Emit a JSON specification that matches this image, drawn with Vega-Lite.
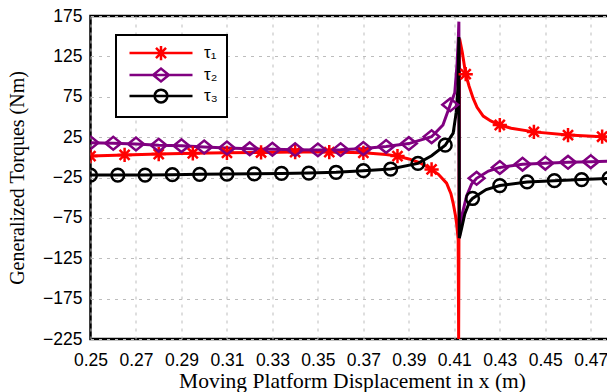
{
  "$schema": "https://vega.github.io/schema/vega-lite/v6.json",
  "width": 523,
  "height": 323,
  "autosize": {"type": "none"},
  "padding": {"left": 90.5, "top": 16, "right": 0, "bottom": 53},
  "background": "white",
  "config": {
    "view": {"stroke": "black", "strokeWidth": 2.5},
    "axis": {
      "grid": true,
      "gridDash": [3, 5],
      "gridColor": "#bdbdbd",
      "gridWidth": 1,
      "domain": false,
      "ticks": false,
      "tickSize": 0,
      "labelFont": "Liberation Sans",
      "labelFontSize": 17.5,
      "labelColor": "black",
      "titleFont": "Liberation Serif",
      "titleFontWeight": "normal",
      "titleColor": "black",
      "labelFlush": false,
      "labelOverlap": false
    },
    "legend": {"strokeWidth": 2}
  },
  "datasets": {
    "curves": [
      {"x": 0.25, "torque": 1.5, "series": "τ₁"},
      {"x": 0.265, "torque": 3, "series": "τ₁"},
      {"x": 0.28, "torque": 4, "series": "τ₁"},
      {"x": 0.295, "torque": 5, "series": "τ₁"},
      {"x": 0.31, "torque": 5.5, "series": "τ₁"},
      {"x": 0.325, "torque": 6, "series": "τ₁"},
      {"x": 0.34, "torque": 6.5, "series": "τ₁"},
      {"x": 0.355, "torque": 6.5, "series": "τ₁"},
      {"x": 0.37, "torque": 5.5, "series": "τ₁"},
      {"x": 0.38, "torque": 3.5, "series": "τ₁"},
      {"x": 0.385, "torque": 1.5, "series": "τ₁"},
      {"x": 0.39, "torque": -2, "series": "τ₁"},
      {"x": 0.395, "torque": -7, "series": "τ₁"},
      {"x": 0.40, "torque": -15, "series": "τ₁"},
      {"x": 0.403, "torque": -21, "series": "τ₁"},
      {"x": 0.4066, "torque": -32, "series": "τ₁"},
      {"x": 0.4085, "torque": -45, "series": "τ₁"},
      {"x": 0.4095, "torque": -57, "series": "τ₁"},
      {"x": 0.4105, "torque": -72, "series": "τ₁"},
      {"x": 0.411, "torque": -82, "series": "τ₁"},
      {"x": 0.4117, "torque": -102, "series": "τ₁"},
      {"x": 0.4119, "torque": -225, "series": "τ₁"},
      {"x": 0.4123, "torque": 147, "series": "τ₁"},
      {"x": 0.4135, "torque": 130, "series": "τ₁"},
      {"x": 0.415, "torque": 103, "series": "τ₁"},
      {"x": 0.4165, "torque": 88, "series": "τ₁"},
      {"x": 0.4183, "torque": 73, "series": "τ₁"},
      {"x": 0.42, "torque": 62, "series": "τ₁"},
      {"x": 0.4227, "torque": 51, "series": "τ₁"},
      {"x": 0.426, "torque": 45, "series": "τ₁"},
      {"x": 0.43, "torque": 40, "series": "τ₁"},
      {"x": 0.435, "torque": 36, "series": "τ₁"},
      {"x": 0.445, "torque": 31.5, "series": "τ₁"},
      {"x": 0.46, "torque": 27.5, "series": "τ₁"},
      {"x": 0.475, "torque": 25.5, "series": "τ₁"},
      {"x": 0.48, "torque": 25, "series": "τ₁"},

      {"x": 0.25, "torque": 18, "series": "τ₂"},
      {"x": 0.26, "torque": 17.4, "series": "τ₂"},
      {"x": 0.27, "torque": 16.5, "series": "τ₂"},
      {"x": 0.28, "torque": 15, "series": "τ₂"},
      {"x": 0.29, "torque": 14.4, "series": "τ₂"},
      {"x": 0.30, "torque": 12.8, "series": "τ₂"},
      {"x": 0.31, "torque": 11.5, "series": "τ₂"},
      {"x": 0.32, "torque": 10.5, "series": "τ₂"},
      {"x": 0.33, "torque": 10, "series": "τ₂"},
      {"x": 0.34, "torque": 9.5, "series": "τ₂"},
      {"x": 0.35, "torque": 9.2, "series": "τ₂"},
      {"x": 0.36, "torque": 9.5, "series": "τ₂"},
      {"x": 0.37, "torque": 11, "series": "τ₂"},
      {"x": 0.38, "torque": 13.5, "series": "τ₂"},
      {"x": 0.39, "torque": 17, "series": "τ₂"},
      {"x": 0.40, "torque": 25.5, "series": "τ₂"},
      {"x": 0.405, "torque": 40, "series": "τ₂"},
      {"x": 0.4082, "torque": 65, "series": "τ₂"},
      {"x": 0.4102, "torque": 80, "series": "τ₂"},
      {"x": 0.4112, "torque": 115, "series": "τ₂"},
      {"x": 0.4118, "torque": 150, "series": "τ₂"},
      {"x": 0.412, "torque": 168, "series": "τ₂"},
      {"x": 0.4122, "torque": -100, "series": "τ₂"},
      {"x": 0.4135, "torque": -70, "series": "τ₂"},
      {"x": 0.4154, "torque": -48, "series": "τ₂"},
      {"x": 0.4176, "torque": -33, "series": "τ₂"},
      {"x": 0.4198, "torque": -26, "series": "τ₂"},
      {"x": 0.425, "torque": -17, "series": "τ₂"},
      {"x": 0.43, "torque": -12.5, "series": "τ₂"},
      {"x": 0.44, "torque": -8.5, "series": "τ₂"},
      {"x": 0.45, "torque": -7.3, "series": "τ₂"},
      {"x": 0.46, "torque": -6.2, "series": "τ₂"},
      {"x": 0.47, "torque": -5.4, "series": "τ₂"},
      {"x": 0.48, "torque": -4.6, "series": "τ₂"},

      {"x": 0.25, "torque": -22, "series": "τ₃"},
      {"x": 0.262, "torque": -22, "series": "τ₃"},
      {"x": 0.274, "torque": -22, "series": "τ₃"},
      {"x": 0.286, "torque": -21.5, "series": "τ₃"},
      {"x": 0.298, "torque": -21, "series": "τ₃"},
      {"x": 0.31, "torque": -20.7, "series": "τ₃"},
      {"x": 0.322, "torque": -20.5, "series": "τ₃"},
      {"x": 0.334, "torque": -20, "series": "τ₃"},
      {"x": 0.346, "torque": -19.5, "series": "τ₃"},
      {"x": 0.358, "torque": -18.5, "series": "τ₃"},
      {"x": 0.37, "torque": -16.5, "series": "τ₃"},
      {"x": 0.382, "torque": -14.5, "series": "τ₃"},
      {"x": 0.394, "torque": -7.5, "series": "τ₃"},
      {"x": 0.40, "torque": 2, "series": "τ₃"},
      {"x": 0.406, "torque": 15, "series": "τ₃"},
      {"x": 0.4095, "torque": 30, "series": "τ₃"},
      {"x": 0.4108, "torque": 55, "series": "τ₃"},
      {"x": 0.4116, "torque": 85, "series": "τ₃"},
      {"x": 0.412, "torque": 149, "series": "τ₃"},
      {"x": 0.4122, "torque": -100, "series": "τ₃"},
      {"x": 0.4132, "torque": -88, "series": "τ₃"},
      {"x": 0.4146, "torque": -70, "series": "τ₃"},
      {"x": 0.4167, "torque": -55, "series": "τ₃"},
      {"x": 0.418, "torque": -51, "series": "τ₃"},
      {"x": 0.424, "torque": -40, "series": "τ₃"},
      {"x": 0.43, "torque": -35, "series": "τ₃"},
      {"x": 0.442, "torque": -30.5, "series": "τ₃"},
      {"x": 0.454, "torque": -29, "series": "τ₃"},
      {"x": 0.466, "torque": -27.5, "series": "τ₃"},
      {"x": 0.478, "torque": -26, "series": "τ₃"},
      {"x": 0.48, "torque": -25.8, "series": "τ₃"}
    ],
    "markers": [
      {"x": 0.25, "torque": 1.5, "series": "τ₁"},
      {"x": 0.265, "torque": 3, "series": "τ₁"},
      {"x": 0.28, "torque": 4, "series": "τ₁"},
      {"x": 0.295, "torque": 5, "series": "τ₁"},
      {"x": 0.31, "torque": 5.5, "series": "τ₁"},
      {"x": 0.325, "torque": 6, "series": "τ₁"},
      {"x": 0.34, "torque": 6.5, "series": "τ₁"},
      {"x": 0.355, "torque": 6.5, "series": "τ₁"},
      {"x": 0.37, "torque": 5.5, "series": "τ₁"},
      {"x": 0.385, "torque": 1.5, "series": "τ₁"},
      {"x": 0.40, "torque": -15, "series": "τ₁"},
      {"x": 0.415, "torque": 103, "series": "τ₁"},
      {"x": 0.43, "torque": 40, "series": "τ₁"},
      {"x": 0.445, "torque": 31.5, "series": "τ₁"},
      {"x": 0.46, "torque": 27.5, "series": "τ₁"},
      {"x": 0.475, "torque": 25.5, "series": "τ₁"},

      {"x": 0.25, "torque": 18, "series": "τ₂"},
      {"x": 0.26, "torque": 17.4, "series": "τ₂"},
      {"x": 0.27, "torque": 16.5, "series": "τ₂"},
      {"x": 0.28, "torque": 15, "series": "τ₂"},
      {"x": 0.29, "torque": 14.4, "series": "τ₂"},
      {"x": 0.30, "torque": 12.8, "series": "τ₂"},
      {"x": 0.31, "torque": 11.5, "series": "τ₂"},
      {"x": 0.32, "torque": 10.5, "series": "τ₂"},
      {"x": 0.33, "torque": 10, "series": "τ₂"},
      {"x": 0.34, "torque": 9.5, "series": "τ₂"},
      {"x": 0.35, "torque": 9.2, "series": "τ₂"},
      {"x": 0.36, "torque": 9.5, "series": "τ₂"},
      {"x": 0.37, "torque": 11, "series": "τ₂"},
      {"x": 0.38, "torque": 13.5, "series": "τ₂"},
      {"x": 0.39, "torque": 17, "series": "τ₂"},
      {"x": 0.40, "torque": 25.5, "series": "τ₂"},
      {"x": 0.4082, "torque": 65, "series": "τ₂"},
      {"x": 0.4198, "torque": -26, "series": "τ₂"},
      {"x": 0.43, "torque": -12.5, "series": "τ₂"},
      {"x": 0.44, "torque": -8.5, "series": "τ₂"},
      {"x": 0.45, "torque": -7.3, "series": "τ₂"},
      {"x": 0.46, "torque": -6.2, "series": "τ₂"},
      {"x": 0.47, "torque": -5.4, "series": "τ₂"},

      {"x": 0.25, "torque": -22, "series": "τ₃"},
      {"x": 0.262, "torque": -22, "series": "τ₃"},
      {"x": 0.274, "torque": -22, "series": "τ₃"},
      {"x": 0.286, "torque": -21.5, "series": "τ₃"},
      {"x": 0.298, "torque": -21, "series": "τ₃"},
      {"x": 0.31, "torque": -20.7, "series": "τ₃"},
      {"x": 0.322, "torque": -20.5, "series": "τ₃"},
      {"x": 0.334, "torque": -20, "series": "τ₃"},
      {"x": 0.346, "torque": -19.5, "series": "τ₃"},
      {"x": 0.358, "torque": -18.5, "series": "τ₃"},
      {"x": 0.37, "torque": -16.5, "series": "τ₃"},
      {"x": 0.382, "torque": -14.5, "series": "τ₃"},
      {"x": 0.394, "torque": -7.5, "series": "τ₃"},
      {"x": 0.406, "torque": 15, "series": "τ₃"},
      {"x": 0.418, "torque": -51, "series": "τ₃"},
      {"x": 0.43, "torque": -35, "series": "τ₃"},
      {"x": 0.442, "torque": -30.5, "series": "τ₃"},
      {"x": 0.454, "torque": -29, "series": "τ₃"},
      {"x": 0.466, "torque": -27.5, "series": "τ₃"},
      {"x": 0.478, "torque": -26, "series": "τ₃"}
    ]
  },
  "encoding": {
    "x": {
      "field": "x",
      "type": "quantitative",
      "scale": {"domain": [0.25, 0.48], "nice": false, "zero": false},
      "axis": {
        "values": [0.25, 0.27, 0.29, 0.31, 0.33, 0.35, 0.37, 0.39, 0.41, 0.43, 0.45, 0.47],
        "format": ".2f",
        "title": "Moving Platform Displacement in x (m)",
        "titleFontSize": 21.5,
        "labelPadding": 12,
        "titlePadding": 2
      }
    },
    "y": {
      "field": "torque",
      "type": "quantitative",
      "scale": {"domain": [-225, 175], "nice": false, "zero": false},
      "axis": {
        "values": [-225, -175, -125, -75, -25, 25, 75, 125, 175],
        "title": "Generalized Torques (Nm)",
        "titleFontSize": 20,
        "labelPadding": 8.5,
        "titlePadding": 15
      }
    },
    "color": {
      "field": "series",
      "type": "nominal",
      "scale": {"domain": ["τ₁", "τ₂", "τ₃"], "range": ["#ff0000", "#800080", "#000000"]}
    }
  },
  "layer": [
    {
      "data": {"name": "curves"},
      "mark": {"type": "line", "strokeWidth": 3, "clip": true},
      "encoding": {
        "order": {"field": "x", "type": "quantitative"}
      }
    },
    {
      "data": {"name": "markers"},
      "transform": [{"filter": "datum.series === 'τ₁'"}],
      "mark": {"type": "point", "filled": false, "strokeWidth": 2.5, "size": 225, "opacity": 1, "clip": true,
        "shape": "M0,-0.95L0,0.95M-0.95,0L0.95,0M-0.67,-0.67L0.67,0.67M-0.67,0.67L0.67,-0.67"}
    },
    {
      "data": {"name": "markers"},
      "transform": [{"filter": "datum.series === 'τ₂'"}],
      "mark": {"type": "point", "filled": false, "strokeWidth": 2.5, "size": 225, "opacity": 1, "clip": true,
        "shape": "M-1.05,0L0,-0.85L1.05,0L0,0.85Z"}
    },
    {
      "data": {"name": "markers"},
      "transform": [{"filter": "datum.series === 'τ₃'"}],
      "mark": {"type": "point", "filled": false, "strokeWidth": 2.5, "size": 225, "opacity": 1, "clip": true,
        "shape": "M-0.85,0A0.85,0.85,0,1,1,0.85,0A0.85,0.85,0,1,1,-0.85,0Z"}
    },
    {
      "data": {"name": "markers"},
      "mark": {"type": "point", "filled": false, "strokeWidth": 2.5, "size": 225, "opacity": 0, "clip": true},
      "encoding": {
        "color": {
          "field": "series",
          "type": "nominal",
          "scale": {"domain": ["τ₁", "τ₂", "τ₃"], "range": ["#ff0000", "#800080", "#000000"]},
          "legend": {
            "title": null,
            "orient": "none",
            "legendX": 25.5,
            "legendY": 19,
            "strokeColor": "black",
            "fillColor": "white",
            "padding": 9,
            "symbolSize": 225,
            "symbolStrokeWidth": 2.5,
            "symbolFillColor": "transparent",
            "symbolOpacity": 1,
            "symbolOffset": 27,
            "labelOffset": 34,
            "labelFont": "Liberation Sans",
            "labelFontSize": 17,
            "labelColor": "black",
            "rowPadding": -11
          }
        },
        "shape": {
          "field": "series",
          "type": "nominal",
          "scale": {
            "domain": ["τ₁", "τ₂", "τ₃"],
            "range": [
              "M-4.2,0L4.2,0M0,-0.95L0,0.95M-0.95,0L0.95,0M-0.67,-0.67L0.67,0.67M-0.67,0.67L0.67,-0.67",
              "M-4.2,0L4.2,0M-1.05,0L0,-0.85L1.05,0L0,0.85Z",
              "M-4.2,0L4.2,0M-0.85,0A0.85,0.85,0,1,1,0.85,0A0.85,0.85,0,1,1,-0.85,0Z"
            ]
          },
          "legend": {
            "title": null,
            "orient": "none",
            "legendX": 25.5,
            "legendY": 19,
            "strokeColor": "black",
            "fillColor": "white",
            "padding": 9,
            "symbolSize": 225,
            "symbolStrokeWidth": 2.5,
            "symbolFillColor": "transparent",
            "symbolOpacity": 1,
            "symbolOffset": 27,
            "labelOffset": 34,
            "labelFont": "Liberation Sans",
            "labelFontSize": 17,
            "labelColor": "black",
            "rowPadding": -11
          }
        }
      }
    }
  ]
}
